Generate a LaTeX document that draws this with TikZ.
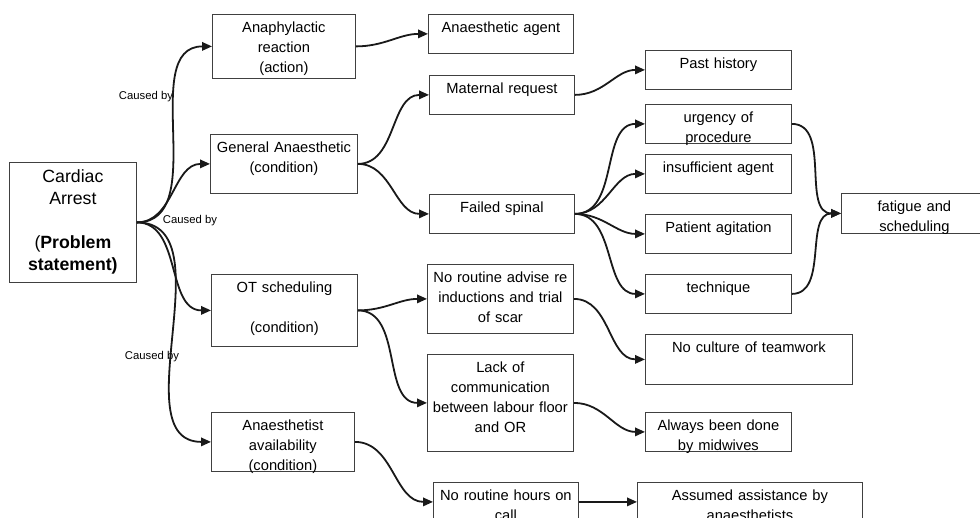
\documentclass[tikz,border=0pt]{standalone}
\usepackage{fontspec}
\setmainfont{Liberation Sans}
\usepackage{tikz}
\usetikzlibrary{arrows.meta}

\begin{document}
\begin{tikzpicture}[x=1pt, y=-1pt,
        cbox/.style 2 args={draw=black!75, line width=0.8pt, anchor=north west, inner sep=0pt,
            text width=#1, align=center, font=\fontsize{14.7}{20}\selectfont,
            text height=18pt, text depth=#2},
        link/.style={line width=1.8pt, draw=black!90, -{Triangle[length=10pt,width=8.5pt]}},
        cause/.style={font=\fontsize{11.3}{13}\selectfont, inner sep=0pt}]
        \useasboundingbox (0,0) rectangle (980,518);
        \clip (0,0) rectangle (980,518);
        % problem
        \node[cbox={127pt}{100pt}, font=\fontsize{17.7}{22}\selectfont, text height=20pt] (card) at (9,162)
            {Cardiac\\Arrest\\[22pt](\textbf{Problem}\\\textbf{statement)}};
        % first level
        \node[cbox={143pt}{46pt}] (ana) at (212,14) {Anaphylactic\\reaction\\(action)};
        \node[cbox={147pt}{41pt}] (gen) at (210,134) {General Anaesthetic\\(condition)};
        \node[cbox={146pt}{54pt}] (ot) at (211,274) {OT scheduling\\[20pt](condition)};
        \node[cbox={143pt}{41pt}] (avail) at (211,412) {Anaesthetist\\availability\\(condition)};
        % second level
        \node[cbox={145pt}{21pt}] (agent) at (428,14) {Anaesthetic agent};
        \node[cbox={145pt}{21pt}] (mat) at (429,75) {Maternal request};
        \node[cbox={145pt}{21pt}] (fail) at (429,194) {Failed spinal};
        \node[cbox={146pt}{51pt}] (adv) at (427,264) {No routine advise re\\inductions and trial\\of scar};
        \node[cbox={146pt}{79pt}] (lack) at (427,354) {Lack of\\communication\\between labour floor\\and OR};
        \node[cbox={145pt}{21pt}] (hours) at (433,482) {No routine hours on\\call};
        % third level
        \node[cbox={146pt}{21pt}] (past) at (645,50) {Past history};
        \node[cbox={146pt}{21pt}] (urg) at (645,104) {urgency of\\procedure};
        \node[cbox={146pt}{21pt}] (insuf) at (645,154) {insufficient agent};
        \node[cbox={146pt}{21pt}] (agit) at (645,214) {Patient agitation};
        \node[cbox={146pt}{21pt}] (tech) at (645,274) {technique};
        \node[cbox={207pt}{32pt}] (cult) at (645,334) {No culture of teamwork};
        \node[cbox={146pt}{21pt}] (mid) at (645,412) {Always been done\\by midwives};
        \node[cbox={225pt}{21pt}] (assum) at (637,482) {Assumed assistance by\\anaesthetists};
        \node[cbox={146pt}{22pt}] (fat) at (841,193) {fatigue and\\scheduling};
        % labels
        \node[cause] (c1) at (146,97) {Caused by};
        \node[cause] (c2) at (190,221) {Caused by};
        \node[cause] (c3) at (152,357) {Caused by};
        % connectors
        \draw[link] (card.east) to[out=0, in=180] (ana.west);
        \draw[link] (card.east) to[out=0, in=180] (gen.west);
        \draw[link] (card.east) to[out=0, in=180] (ot.west);
        \draw[link] (card.east) to[out=0, in=180] (avail.west);
        \draw[link] (ana.east) to[out=0, in=180] (agent.west);
        \draw[link] (gen.east) to[out=0, in=180] (mat.west);
        \draw[link] (gen.east) to[out=0, in=180] (fail.west);
        \draw[link] (mat.east) to[out=0, in=180] (past.west);
        \draw[link] (fail.east) to[out=0, in=180] (urg.west);
        \draw[link] (fail.east) to[out=0, in=180] (insuf.west);
        \draw[link] (fail.east) to[out=0, in=180] (agit.west);
        \draw[link] (fail.east) to[out=0, in=180] (tech.west);
        \draw[link] (urg.east) to[out=0, in=180] (fat.west);
        \draw[link] (tech.east) to[out=0, in=180] (fat.west);
        \draw[link] (ot.east) to[out=0, in=180] (adv.west);
        \draw[link] (ot.east) to[out=0, in=180] (lack.west);
        \draw[link] (adv.east) to[out=0, in=180] (cult.west);
        \draw[link] (lack.east) to[out=0, in=180] (mid.west);
        \draw[link] (avail.east) to[out=0, in=180] (hours.west);
        \draw[link] (hours) -- (assum);
    \end{tikzpicture}
\end{document}
